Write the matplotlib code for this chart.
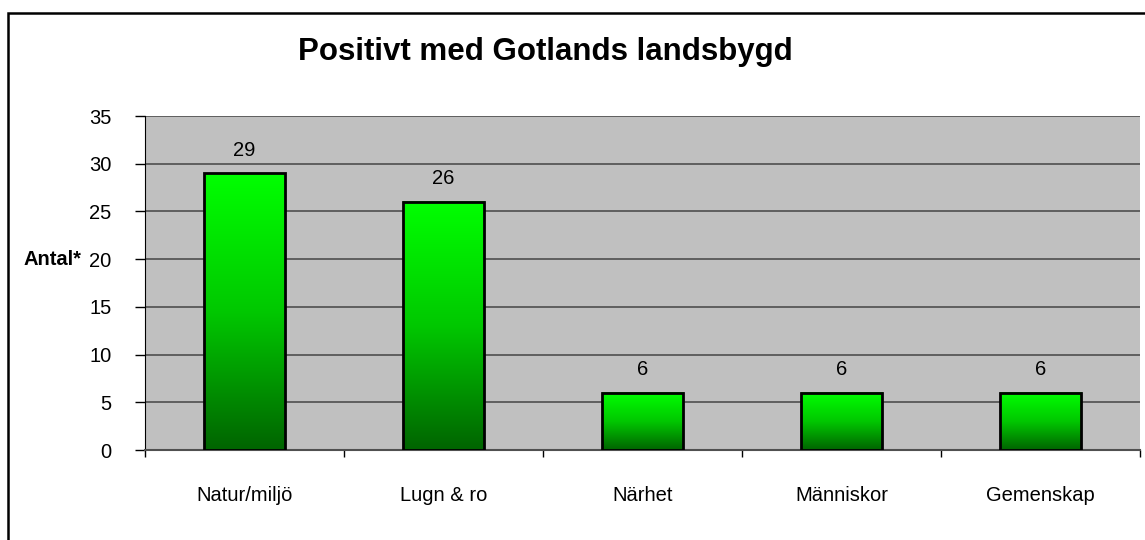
import numpy as np
import matplotlib.pyplot as plt
from matplotlib.patches import Rectangle
from matplotlib.colors import LinearSegmentedColormap

categories = ['Natur/miljö', 'Lugn & ro', 'Närhet', 'Människor', 'Gemenskap']
values = [29, 26, 6, 6, 6]

plt.rcParams['font.family'] = ['Liberation Sans', 'DejaVu Sans']
fs = 14.5

fig = plt.figure(figsize=(11.45, 5.4), dpi=100)
ax = fig.add_axes([145 / 1145, 90 / 540, 995 / 1145, 334 / 540])
ax.set_facecolor('#c0c0c0')

# green gradient, dark at bottom, bright at top
cmap = LinearSegmentedColormap.from_list('grn', ['#006400', '#00c800', '#00ff00'])
grad = np.linspace(0, 1, 256).reshape(-1, 1)

x = np.arange(len(categories))
width = 0.41
bars = ax.bar(x, values, width=width, facecolor='none', edgecolor='black', linewidth=2, zorder=4)
for b in bars:
    x0, y0 = b.get_x(), b.get_y()
    w, h = b.get_width(), b.get_height()
    ax.imshow(grad, extent=[x0, x0 + w, y0, y0 + h], origin='lower', cmap=cmap,
              aspect='auto', zorder=3)

for xi, v in zip(x, values):
    ax.annotate(str(v), (xi, v), xytext=(0, 16.5), textcoords='offset points',
                ha='center', va='center', fontsize=fs)

ax.set_xlim(-0.5, len(categories) - 0.5)
ax.set_ylim(0, 35)
ax.set_yticks(np.arange(0, 36, 5))
ax.yaxis.grid(True, color='#454545', linewidth=1.1)
ax.set_axisbelow(True)

ax.set_xticks(np.arange(-0.5, len(categories), 1))
ax.set_xticklabels([])
ax.set_xticks(x, minor=True)
ax.set_xticklabels(categories, minor=True)
ax.tick_params(axis='x', which='minor', length=0, pad=26, labelsize=fs)
ax.tick_params(axis='x', which='major', length=5, width=1, color='black')
ax.tick_params(axis='y', length=7, width=1, labelsize=fs, pad=17)

for s in ['top', 'right']:
    ax.spines[s].set_visible(False)
ax.spines['left'].set_color('black')
ax.spines['bottom'].set_color('#505050')
ax.spines['bottom'].set_linewidth(1.5)

ax.set_ylabel('Antal*', rotation=0, fontweight='bold', fontsize=fs, ha='right', va='center')
ax.yaxis.set_label_coords(-0.064, 20 / 35)

fig.text(545 / 1145, 1 - 52 / 540, 'Positivt med Gotlands landsbygd', ha='center', va='center',
         fontsize=22.5, fontweight='bold')

# chart border (right and bottom edges are cut off in the original)
fig.patches.append(Rectangle((8 / 1145, -0.1), 1.2, 1 - 13 / 540 + 0.1, transform=fig.transFigure,
                             fill=False, edgecolor='black', linewidth=1.8))

fig.savefig('out.png', dpi=100)
